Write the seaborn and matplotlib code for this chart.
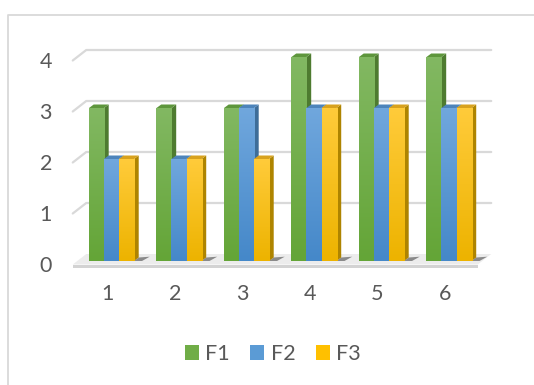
import numpy as np
import pandas as pd
import seaborn as sns
import matplotlib
matplotlib.use("Agg")
import matplotlib.pyplot as plt
from matplotlib.patches import Polygon
from matplotlib.lines import Line2D
from matplotlib.transforms import IdentityTransform, ScaledTranslation
from matplotlib.colors import to_rgba

# ---- data ----
categories = ["1", "2", "3", "4", "5", "6"]
series_names = ["F1", "F2", "F3"]
f1 = [3, 3, 3, 4, 4, 4]
f2 = [2, 2, 3, 3, 3, 3]
f3 = [2, 2, 2, 3, 3, 3]
y_ticks = [0, 1, 2, 3, 4]

# ---- colours: base, gradient top/bottom, side, top face ----
base = {"F1": "#70AD47", "F2": "#5B9BD5", "F3": "#FFC000"}
grad = {"F1": ("#82B862", "#64A537"),
        "F2": ("#70A7DD", "#4588C9"),
        "F3": ("#FFCB3A", "#EDB300")}
side = {"F1": "#4E7B30", "F2": "#3E6D98", "F3": "#AE8400"}
topc = {"F1": "#5E963C", "F2": "#4D84BB", "F3": "#D8A21E"}
text_color = "#595959"
grid_color = "#D9D9D9"
label_size = 15.5

sns.set_style("white")
plt.rcParams["font.family"] = ["Lato", "DejaVu Sans"]

DPI = 100
fig = plt.figure(figsize=(5.34, 3.85), dpi=DPI)
W, H = 534, 385
ax = fig.add_axes([77.75 / W, 124 / H, 405 / W, 204 / H])

df = pd.DataFrame({
    "cat": categories * 3,
    "series": np.repeat(series_names, len(categories)),
    "value": f1 + f2 + f3,
})

sns.barplot(data=df, x="cat", y="value", hue="series", order=categories,
            hue_order=series_names, palette=base, width=0.667, gap=0,
            saturation=1, linewidth=0, errorbar=None, ax=ax)

# bar patches with their series, taken from the bar containers
bars = []
for j, cont in enumerate(ax.containers):
    for p in cont.patches:
        bars.append((p, series_names[j]))
bars.sort(key=lambda b: b[0].get_x())

ax.set_xlim(-0.5, len(categories) - 0.5)
ax.set_ylim(0, 4)
ax.set_xticks([])
ax.set_yticks([])
ax.set_xlabel("")
ax.set_ylabel("")
for s in ax.spines.values():
    s.set_visible(False)
ax.patch.set_alpha(0)

fig.canvas.draw()
T = ax.transData
ident = IdentityTransform()

# depth offsets in display pixels (x right, y up)
bar_dx, bar_dy = 4.7, 3.5
back_dx, back_dy = 8.5, 7.0
front_dx, front_dy = -5.0, -3.5

x_lo, x_hi = ax.get_xlim()

# back-wall gridlines with their left diagonal
for v in y_ticks[1:]:
    (xa, ya) = T.transform((x_lo, v))
    (xb, yb) = T.transform((x_hi, v))
    ax.add_line(Line2D([xa + front_dx, xa + back_dx, xb + back_dx],
                       [ya + front_dy, ya + back_dy, yb + back_dy],
                       color=grid_color, lw=1.6, transform=ident,
                       clip_on=False, zorder=1))

# floor slab
(xa, ya) = T.transform((x_lo, 0))
(xb, yb) = T.transform((x_hi, 0))
floor_top = [(xa + front_dx, ya + front_dy), (xb + front_dx, yb + front_dy),
             (xb + back_dx, yb + back_dy), (xa + back_dx, ya + back_dy)]
ax.add_patch(Polygon(floor_top, closed=True, facecolor="#ECECEC",
                     edgecolor="none", transform=ident, clip_on=False,
                     zorder=1))
floor_edge = [(xa + front_dx, ya + front_dy), (xb + front_dx, yb + front_dy),
              (xb + front_dx, yb + front_dy - 3), (xa + front_dx, ya + front_dy - 3)]
ax.add_patch(Polygon(floor_edge, closed=True, facecolor="#D3D3D3",
                     edgecolor="none", transform=ident, clip_on=False,
                     zorder=1))

for k, (p, ser) in enumerate(bars):
    x0 = p.get_x()
    x1 = x0 + p.get_width()
    h = p.get_height()
    X0, Y0 = T.transform((x0, 0))
    X1, Y1 = T.transform((x1, h))
    z = 5 + 3 * k
    # shadow on the floor behind the group's last bar
    if ser == series_names[-1]:
        shadow = [(X1, Y0), (X1 + bar_dx, Y0 + bar_dy),
                  (X1 + bar_dx + 11, Y0 + bar_dy + 0.8), (X1 + 8, Y0)]
        ax.add_patch(Polygon(shadow, closed=True, facecolor="#3A3A3A",
                             alpha=0.55, edgecolor="none", transform=ident,
                             clip_on=False, zorder=2))
    side_poly = [(X1, Y0), (X1 + bar_dx, Y0 + bar_dy),
                 (X1 + bar_dx, Y1 + bar_dy), (X1, Y1)]
    top_poly = [(X0, Y1), (X1, Y1), (X1 + bar_dx, Y1 + bar_dy),
                (X0 + bar_dx, Y1 + bar_dy)]
    ax.add_patch(Polygon(side_poly, closed=True, facecolor=side[ser],
                         edgecolor="none", transform=ident, clip_on=False,
                         zorder=z))
    ax.add_patch(Polygon(top_poly, closed=True, facecolor=topc[ser],
                         edgecolor="none", transform=ident, clip_on=False,
                         zorder=z))
    p.set_zorder(z + 1)
    # vertical gradient over the front face
    c_top = np.array(to_rgba(grad[ser][0]))
    c_bot = np.array(to_rgba(grad[ser][1]))
    t = np.linspace(0, 1, 64)[:, None]
    img = (c_top * (1 - t) + c_bot * t)[:, None, :]
    im = ax.imshow(img, extent=(x0, x1, 0, h), aspect="auto",
                   origin="upper", zorder=z + 2, interpolation="bilinear")
    im.set_clip_path(p)

ax.set_xlim(x_lo, x_hi)
ax.set_ylim(0, 4)

# axis labels
for v in y_ticks:
    ax.text(0, v, str(v), transform=ax.get_yaxis_transform()
            + ScaledTranslation(-32 / DPI, -5 / DPI, fig.dpi_scale_trans),
            ha="center", va="center", fontsize=label_size, color=text_color)
for i, c in enumerate(categories):
    ax.text(i, 0, c, transform=ax.get_xaxis_transform()
            + ScaledTranslation(-4 / DPI, -33 / DPI, fig.dpi_scale_trans),
            ha="center", va="center", fontsize=label_size, color=text_color)

# legend
sns.move_legend(ax, "center", bbox_to_anchor=(273 / W, 31 / H),
                bbox_transform=fig.transFigure, ncol=3, frameon=False,
                title=None, handlelength=0.65, handleheight=0.65,
                handletextpad=0.3, columnspacing=0.95, fontsize=label_size,
                labelcolor=text_color)

# chart frame
fig.add_artist(Line2D([8 / W, 8 / W, 1.0], [0.0, 1 - 14.5 / H, 1 - 14.5 / H],
                      color=grid_color, lw=1.3, transform=fig.transFigure))

fig.savefig("out.png", dpi=DPI)
